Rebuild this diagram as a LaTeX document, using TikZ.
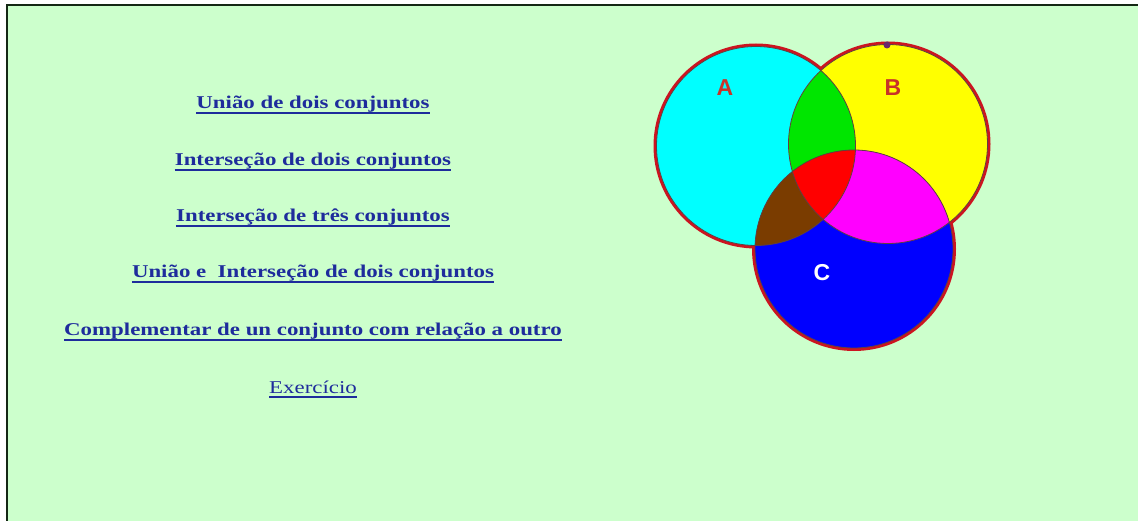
\documentclass[tikz,border=0pt]{standalone}
\usepackage{fontspec}
\setmainfont{Liberation Serif}
\newfontfamily\linkfont[FakeStretch=1.27]{Liberation Serif}
\newfontfamily\labfont{Liberation Sans}
\definecolor{bg}{HTML}{CCFFCC}
\definecolor{frame}{HTML}{142814}
\definecolor{linkblue}{HTML}{1E2C9C}
\definecolor{rimred}{HTML}{CC1420}
\definecolor{labred}{HTML}{C83228}
\definecolor{cyanA}{HTML}{00FFFF}
\definecolor{yellowB}{HTML}{FFFF00}
\definecolor{blueC}{HTML}{0000FF}
\definecolor{greenAB}{HTML}{00E600}
\definecolor{brownAC}{HTML}{7A3C00}
\definecolor{magBC}{HTML}{FF00FF}
\definecolor{redABC}{HTML}{FF0000}
\definecolor{arcdark}{HTML}{604040}
\definecolor{dotpurple}{HTML}{6A2A6A}
\begin{document}
\begin{tikzpicture}[x=1pt,y=-1pt,
  link/.style={anchor=base, inner sep=0pt, text=linkblue, font=\linkfont\fontsize{18}{20}\selectfont\bfseries},
  plainlink/.style={anchor=base, inner sep=0pt, text=linkblue, font=\linkfont\fontsize{18}{20}\selectfont},
  uline/.style={draw=linkblue, line width=1.3pt},
  setlab/.style={font=\labfont\bfseries\fontsize{23}{23}\selectfont, inner sep=0pt}]
\useasboundingbox (0,0) rectangle (1138,521);
\fill[white] (0,0) rectangle (1138,521);
\fill[bg] (7,5) rectangle (1138,521);
\draw[frame, line width=2pt] (7,521) -- (7,5) -- (1138,5);

% links
\node[link] (l1) at (313,109) {União de dois conjuntos};
\node[link] (l2) at (313,166) {Interseção de dois conjuntos};
\node[link] (l3) at (313,222) {Interseção de três conjuntos};
\node[link] (l4) at (313,278) {União e\ \ Interseção de dois conjuntos};
\node[link] (l5) at (313,336) {Complementar de un conjunto com relação a outro};
\node[plainlink] (l6) at (313,393) {Exercício};
\foreach \n in {l1,l2,l3,l4,l5,l6}
  \draw[uline] ([yshift=-4pt]\n.base west) -- ([yshift=-4pt]\n.base east);

% Venn diagram
\coordinate (ca) at (756,146);
\coordinate (cb) at (888,144);
\coordinate (cc) at (854,249);
\def\ra{99.5pt}\def\rb{99.5pt}\def\rc{99pt}
\draw[rimred, line width=6pt] (ca) circle[radius=\ra];
\draw[rimred, line width=6pt] (cb) circle[radius=\rb];
\draw[rimred, line width=6pt] (cc) circle[radius=\rc];
\fill[cyanA] (ca) circle[radius=\ra];
\fill[yellowB] (cb) circle[radius=\rb];
\fill[blueC] (cc) circle[radius=\rc];
\begin{scope}
  \clip (ca) circle[radius=\ra];
  \fill[greenAB] (cb) circle[radius=\rb];
  \fill[brownAC] (cc) circle[radius=\rc];
  \clip (cb) circle[radius=\rb];
  \fill[redABC] (cc) circle[radius=\rc];
\end{scope}
\begin{scope}[even odd rule]
  \clip (cb) circle[radius=\rb];
  \clip (ca) circle[radius=\ra] (0,0) rectangle (1138,521);
  \fill[magBC] (cc) circle[radius=\rc];
\end{scope}
\draw[arcdark, line width=0.8pt] (ca) circle[radius=\ra];
\draw[arcdark, line width=0.8pt] (cb) circle[radius=\rb];
\draw[arcdark, line width=0.8pt] (cc) circle[radius=\rc];
\fill[dotpurple] (887,45) circle[radius=3.5pt];
\node[setlab, text=labred] (la) at (725,88) {A};
\node[setlab, text=labred] (lb) at (893,88) {B};
\node[setlab, text=white] (lc) at (822,273) {C};
\end{tikzpicture}
\end{document}
